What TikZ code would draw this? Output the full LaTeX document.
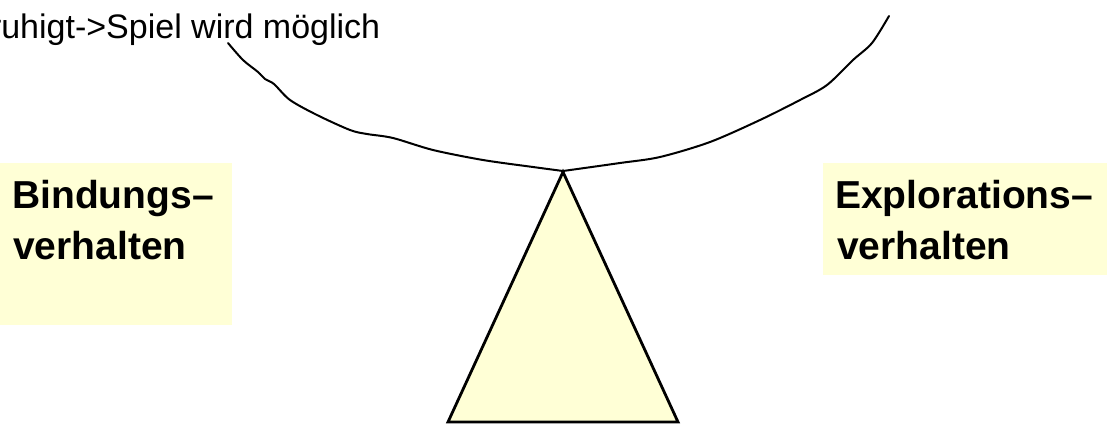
\documentclass[tikz,border=0pt]{standalone}
\usepackage{fontspec}
\setmainfont{Liberation Sans}
\definecolor{pad}{RGB}{255, 255, 214}

\begin{document}
\begin{tikzpicture}[x=1pt, y=-1pt,
  note text/.style={anchor=base west, inner sep=0pt, font=\fontsize{34}{40}\selectfont},
  side text/.style={anchor=base west, inner sep=0pt, font=\fontsize{39}{50}\selectfont\bfseries}]

  \useasboundingbox (0, 0) rectangle (1107, 424);
  \clip (0, 0) rectangle (1107, 424);

  % yellow panels behind the labels
  \fill[pad] (0, 163) rectangle (232, 325);
  \fill[pad] (823, 163) rectangle (1107, 275);

  \node[note text] (note) at (-48, 38) {beruhigt->Spiel wird möglich};

  \node[side text] (bind) at (12, 208) {Bindungs\textendash};
  \node[side text] (bindv) at (13, 259) {verhalten};
  \node[side text] (expl) at (835, 208) {Explorations\textendash};
  \node[side text] (explv) at (837, 259) {verhalten};

  \coordinate (apex) at (563, 172);
  \coordinate (baseL) at (448, 422);
  \coordinate (baseR) at (678, 422);

  % the beam, drawn by hand
  \draw[line width=2, line cap=round] plot[smooth, tension=0.5] coordinates
    {(228, 43) (243, 60) (258, 72) (265, 79) (274, 84) (290, 100) (317, 115)
     (350, 130) (367, 134) (393, 138) (433, 150) (483, 160) (533, 167) (563, 171)};
  \draw[line width=2, line cap=round] plot[smooth, tension=0.5] coordinates
    {(563, 171) (620, 163) (660, 157) (710, 142) (760, 120) (800, 100) (827, 85)
     (853, 60) (872, 43) (889, 16)};

  \draw[line width=2.8, fill=pad, line join=miter] (apex) -- (baseR) -- (baseL) -- cycle;

\end{tikzpicture}
\end{document}
